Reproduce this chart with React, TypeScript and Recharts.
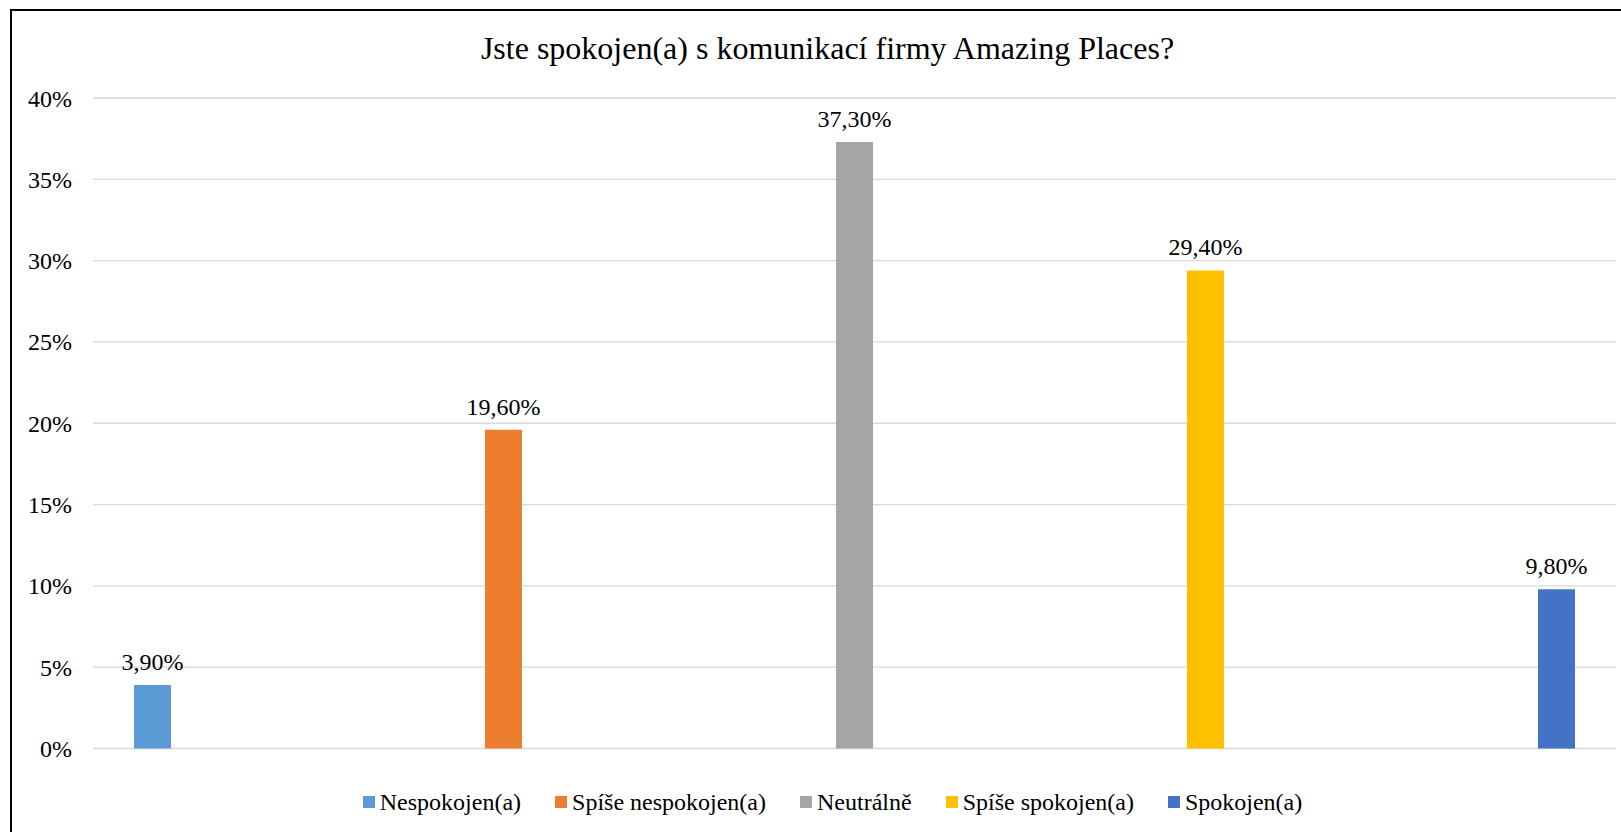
import { BarChart, Bar, XAxis, YAxis, CartesianGrid, Legend, LabelList } from "recharts";

const categories = ["Nespokojen(a)", "Spíše nespokojen(a)", "Neutrálně", "Spíše spokojen(a)", "Spokojen(a)"];
const values = [3.9, 19.6, 37.3, 29.4, 9.8];
const colors = ["#5B9BD5", "#ED7D31", "#A5A5A5", "#FFC000", "#4472C4"];
const yTicks = [0, 5, 10, 15, 20, 25, 30, 35, 40];
const title = "Jste spokojen(a) s komunikací firmy Amazing Places?";

const FONT = '"Liberation Serif", "Times New Roman", serif';

const data = [
  categories.reduce<Record<string, number | string>>(
    (acc, _c, i) => {
      acc[`s${i}`] = values[i];
      return acc;
    },
    { cat: "" }
  ),
];

function fmtLabel(v: unknown): string {
  return `${Number(v).toFixed(2).replace(".", ",")}%`;
}

function LegendContent() {
  return (
    <div
      style={{
        display: "flex",
        justifyContent: "center",
        alignItems: "center",
        height: 30,
        fontFamily: FONT,
        fontSize: 24,
        color: "#000",
        gap: 34,
      }}
    >
      {categories.map((c, i) => (
        <div key={c} style={{ display: "flex", alignItems: "center" }}>
          <span style={{ width: 12, height: 12, background: colors[i], marginRight: 5, display: "inline-block" }} />
          <span style={{ whiteSpace: "nowrap" }}>{c}</span>
        </div>
      ))}
    </div>
  );
}

export default function App() {
  return (
    <div
      style={{
        position: "fixed",
        left: 0,
        top: 0,
        width: 1621,
        height: 832,
        overflow: "hidden",
        background: "#fff",
        fontFamily: FONT,
      }}
    >
      <div
        style={{
          position: "absolute",
          left: 10,
          top: 9,
          width: 1700,
          height: 900,
          borderLeft: "2px solid #000",
          borderTop: "2px solid #000",
        }}
      />
      <div
        style={{
          position: "absolute",
          left: 0,
          top: 30,
          width: 1655,
          textAlign: "center",
          fontFamily: FONT,
          fontSize: 32,
          lineHeight: "36px",
          color: "#000",
          whiteSpace: "nowrap",
        }}
      >
        {title}
      </div>
      <div style={{ position: "absolute", left: 0, top: 0 }}>
        <BarChart
          width={1621}
          height={832}
          data={data}
          margin={{ top: 98, right: 5, bottom: 53.5, left: 0 }}
          barGap={314}
        >
          <CartesianGrid vertical={false} stroke="#D9D9D9" strokeWidth={1.3} />
          <XAxis dataKey="cat" hide />
          <YAxis
            width={93}
            domain={[0, 40]}
            ticks={yTicks}
            interval={0}
            axisLine={false}
            tickLine={false}
            tickSize={0}
            tickMargin={21}
            tickFormatter={(v) => `${v}%`}
            tick={{ fontSize: 24, fill: "#000", fontFamily: FONT }}
          />
          <Legend
            verticalAlign="bottom"
            content={<LegendContent />}
            wrapperStyle={{ left: 22, width: 1621, bottom: 15 }}
          />
          {categories.map((c, i) => (
            <Bar key={c} dataKey={`s${i}`} name={c} fill={colors[i]} barSize={37} isAnimationActive={false}>
              <LabelList
                dataKey={`s${i}`}
                position="top"
                offset={15}
                formatter={fmtLabel}
                style={{ fontSize: 24, fill: "#000", fontFamily: FONT }}
              />
            </Bar>
          ))}
        </BarChart>
      </div>
    </div>
  );
}
